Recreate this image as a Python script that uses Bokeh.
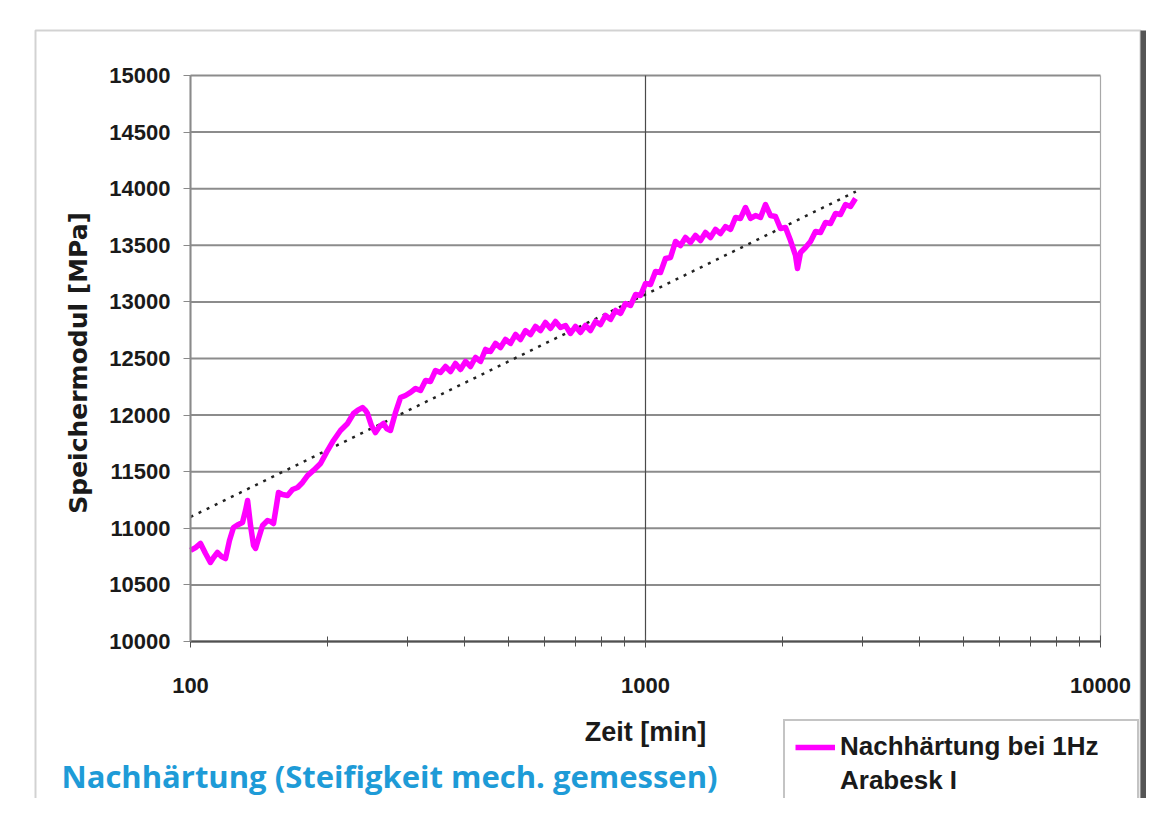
import math
from bokeh.plotting import figure
from bokeh.models import (Range1d, FixedTicker, Legend, LegendItem, Label, BoxAnnotation)
from bokeh.embed import file_html
from bokeh.resources import INLINE

# ---------------- data ----------------
time_min = [
    100, 102.6, 105.2, 107.9, 110.6, 112.4, 114.6, 117.0, 119.4, 121.8,
    124.3, 127.5, 130.1, 132.1, 133.5, 135.5, 137.6, 139.0, 141.1, 144.0,
    147.7, 149.9, 152.2, 154.5, 156.1, 159.3, 163.4, 167.6, 171.9, 176.3,
    180.8, 186.3, 193.1, 199.0, 206.2, 213.6, 221.4, 224.7, 228.2, 232.8,
    238.8, 242.5, 244.9, 249.9, 255.0, 260.3, 265.6, 269.6, 275.1, 282.2,
    289.4, 296.8, 304.5,
    312.3, 320.3, 328.5, 336.9, 345.5, 354.4, 363.5, 372.8, 382.3, 392.1,
    402.2, 412.5, 423.0, 433.9, 445.0, 456.4, 468.1, 480.1, 492.4, 505.0,
    518.0, 531.2, 544.8, 558.8, 573.1, 587.8, 602.8, 618.3, 634.1, 650.4,
    667.1, 684.1, 701.7, 719.7, 738.1, 757.0, 776.4, 796.3, 816.7, 837.7,
    859.1, 881.2, 903.6, 926.9, 950.7, 975.0, 1000, 1025.6, 1051.9, 1078.8,
    1106.5, 1134.9, 1164.0, 1193.8, 1224.4, 1255.8, 1288.0, 1321.0, 1354.9, 1389.5,
    1425.1, 1461.7, 1499.1, 1537.5, 1576.9, 1617.4, 1658.7, 1701.3, 1744.9, 1789.7,
    1835.5, 1882.6, 1930.7, 1980.2, 2031.0, 2083.1, 2136.5, 2158.0, 2191.3, 2247.4,
    2305.1, 2364.0, 2424.9, 2486.6, 2550.6, 2615.7, 2682.7, 2751.5, 2821.9, 2894.3,
]
modulus_mpa = [
    10804, 10830, 10866, 10777, 10698, 10742, 10786, 10751, 10733, 10892,
    11007, 11034, 11051, 11157, 11246, 11025, 10848, 10822, 10910, 11025,
    11069, 11060, 11042, 11201, 11316, 11299, 11290, 11343, 11360, 11405,
    11466, 11511, 11572, 11670, 11776, 11864, 11926, 11970, 12014, 12041,
    12067, 12041, 12014, 11908, 11846, 11899, 11926, 11882, 11864, 12023,
    12155, 12173, 12200,
    12235, 12217, 12306, 12297, 12394, 12376, 12429, 12385, 12456, 12403,
    12474, 12429, 12509, 12474, 12580, 12562, 12633, 12597, 12668, 12633,
    12712, 12668, 12747, 12712, 12783, 12747, 12818, 12765, 12827, 12774,
    12792, 12721, 12783, 12730, 12792, 12747, 12827, 12800, 12880, 12845,
    12924, 12898, 12986, 12968, 13065, 13057, 13163, 13154, 13269, 13260,
    13383, 13392, 13534, 13498, 13569, 13525, 13587, 13542, 13613, 13569,
    13640, 13604, 13666, 13640, 13746, 13737, 13834, 13737, 13763, 13746,
    13860, 13763, 13754, 13648, 13657, 13542, 13410, 13295, 13436, 13481,
    13534, 13622, 13613, 13701, 13693, 13781, 13772, 13860, 13843, 13913,
]

trend_time = [100, 2900]
trend_modulus = [11100, 13975]

x_ticks = [100, 1000, 10000]
x_tick_labels = ["100", "1000", "10000"]
x_minor_ticks = [200, 300, 400, 500, 600, 700, 800, 900,
                 2000, 3000, 4000, 5000, 6000, 7000, 8000, 9000]
y_ticks = [10000, 10500, 11000, 11500, 12000, 12500, 13000, 13500, 14000, 14500, 15000]
y_tick_labels = [str(v) for v in y_ticks]
x_lo, x_hi = 100, 10000
y_lo, y_hi = 10000, 15000

series_label_1 = "Nachhärtung bei 1Hz"
series_label_2 = "Arabesk I"
x_title = "Zeit [min]"
y_title = "Speichermodul  [MPa]"
caption = "Nachhärtung (Steifigkeit mech. gemessen)"

# ---------------- layout (pixels) ----------------
W, H = 1146, 798
PX_LEFT, PX_RIGHT = 190, 1100     # pixel columns of x_lo / x_hi
PX_TOP, PX_BOTTOM = 75, 641       # pixel rows of y_hi / y_lo


def px_to_x(px):
    dec = math.log10(x_hi) - math.log10(x_lo)
    return 10 ** (math.log10(x_lo) + dec * (px - PX_LEFT) / (PX_RIGHT - PX_LEFT))


def px_to_y(py):
    return y_lo + (PX_BOTTOM - py) * (y_hi - y_lo) / (PX_BOTTOM - PX_TOP)


FONT = "Liberation Sans"
DARK = "#1a1a1a"

p = figure(width=W, height=H, x_axis_type="log",
           x_range=Range1d(px_to_x(0), px_to_x(W)),
           y_range=Range1d(px_to_y(H), px_to_y(0)),
           output_backend="svg", toolbar_location=None,
           min_border=0, min_border_left=0, min_border_right=0,
           min_border_top=0, min_border_bottom=0)

p.background_fill_color = "white"
p.border_fill_color = "white"
p.outline_line_color = None
p.xgrid.visible = False
p.ygrid.visible = False

# grid lines of the plot area
p.segment(x0=x_lo, x1=x_hi, y0=y_ticks, y1=y_ticks,
          line_color="#8c8c8c", line_width=2)
p.segment(x0=x_ticks, x1=x_ticks, y0=y_lo, y1=y_hi,
          line_color=["#8c8c8c", "#4a4a4a", "#a8a8a8"], line_width=1.2)

# axes, pinned to the plot area
xa = p.xaxis[0]
xa.fixed_location = y_lo
xa.bounds = (x_lo, x_hi)
xa.ticker = FixedTicker(ticks=x_ticks, minor_ticks=x_minor_ticks)
xa.major_label_overrides = dict(zip(x_ticks, x_tick_labels))
xa.axis_line_color = "#505050"
xa.axis_line_width = 2
xa.major_tick_line_color = "#505050"
xa.minor_tick_line_color = "#505050"
xa.major_tick_in = 6
xa.major_tick_out = 6
xa.minor_tick_in = 5
xa.minor_tick_out = 5
xa.major_label_standoff = 30
xa.major_label_text_font = FONT
xa.major_label_text_font_style = "bold"
xa.major_label_text_font_size = "22px"
xa.major_label_text_color = DARK

ya = p.yaxis[0]
ya.fixed_location = x_lo
ya.bounds = (y_lo, y_hi)
ya.ticker = FixedTicker(ticks=y_ticks)
ya.major_label_overrides = dict(zip(y_ticks, y_tick_labels))
ya.axis_line_color = "#8a8a8a"
ya.axis_line_width = 2
ya.major_tick_line_color = "#8a8a8a"
ya.major_tick_in = 0
ya.major_tick_out = 7
ya.minor_tick_line_color = None
ya.major_label_standoff = 13
ya.major_label_text_font = FONT
ya.major_label_text_font_style = "bold"
ya.major_label_text_font_size = "22px"
ya.major_label_text_color = DARK

# outer frame of the figure
p.add_layout(BoxAnnotation(left=px_to_x(35), right=px_to_x(1140),
                           top=px_to_y(30), bottom=px_to_y(H + 50),
                           fill_alpha=0, line_color="#6a6a6a", line_width=2))
p.add_layout(BoxAnnotation(left=px_to_x(1140), right=px_to_x(W + 5),
                           top=px_to_y(30), bottom=px_to_y(H + 50),
                           fill_color="#555555", fill_alpha=1, line_alpha=0))

# data
trend = p.line(trend_time, trend_modulus, line_color="#222222", line_width=2.5,
               line_dash="3 6")
main = p.line(time_min, modulus_mpa, line_color="#ff00ff", line_width=5.5,
              line_join="round")
blank = p.line([x_lo, x_lo], [y_lo, y_lo], line_alpha=0)

legend = Legend(items=[LegendItem(label=series_label_1, renderers=[main]),
                       LegendItem(label=series_label_2, renderers=[blank])],
                location=(783, -10),
                label_text_font=FONT, label_text_font_style="bold",
                label_text_font_size="26px", label_text_color=DARK,
                label_height=30, glyph_height=30, glyph_width=40,
                label_width=287,
                label_standoff=5, spacing=3, padding=10,
                border_line_color="#8a8a8a", border_line_width=2,
                background_fill_color="white", background_fill_alpha=1)
p.add_layout(legend)

# titles
p.add_layout(Label(x=px_to_x(645), y=px_to_y(746), text=x_title,
                   text_font=FONT, text_font_style="bold", text_font_size="27px",
                   text_color=DARK, text_align="center", text_baseline="bottom"))
p.add_layout(Label(x=px_to_x(78), y=px_to_y(358), text=y_title, angle=math.pi / 2,
                   text_font="DejaVu Sans", text_font_style="bold", text_font_size="25px",
                   text_color=DARK, text_align="center", text_baseline="middle"))
p.add_layout(Label(x=px_to_x(61), y=px_to_y(796), text=caption,
                   text_font="Open Sans", text_font_style="bold", text_font_size="31px",
                   text_color="#1e9bd7", text_align="left", text_baseline="bottom"))

open("out.html", "w").write(file_html(p, INLINE))
